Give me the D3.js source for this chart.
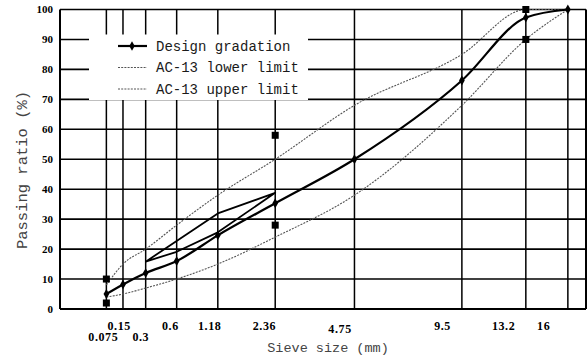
<!DOCTYPE html>
<html>
<head>
<meta charset="utf-8">
<script src="https://cdnjs.cloudflare.com/ajax/libs/d3/7.8.5/d3.min.js"></script>
<style>
  html, body { margin: 0; padding: 0; background: #fff; }
</style>
</head>
<body>
<div id="viz"></div>
<script>
(function gradationChart() {
  const svgWidth = 587;
  const svgHeight = 358;
  const margin = { top: 9.5, right: 1, bottom: 49, left: 60 };

  const inkColor = '#000';
  const limitColor = '#555';
  const titleColor = '#444';

  // data
  const sieveSizes = [0.075, 0.15, 0.3, 0.6, 1.18, 2.36, 4.75, 9.5, 13.2, 16];
  const sieveLabels = ['0.075', '0.15', '0.3', '0.6', '1.18', '2.36', '4.75', '9.5', '13.2', '16'];
  const designPassing = [5, 8.2, 12, 16, 24.6, 35.3, 50, 76.3, 97.3, 100];
  const lowerLimit = [4, 5, 7, 10, 15, 24, 38, 68, 90, 100];
  const upperLimit = [8, 15, 20, 28, 38, 50, 68, 85, 100, 100];
  // the stray closed loop drawn between 0.3 and 2.36
  const loopSizes = [0.3, 1.18, 2.36, 1.18, 0.6, 0.3];
  const loopPassing = [15.8, 31.9, 38.8, 25.6, 19.1, 15.8];
  // square control points
  const controlSizes = [0.075, 0.075, 2.36, 2.36, 13.2, 13.2];
  const controlPassing = [10, 2, 58, 28, 100, 90];
  const yTicks = [0, 10, 20, 30, 40, 50, 60, 70, 80, 90, 100];
  const lowerRowLabels = ['0.075', '0.3'];

  const legendItems = [
    { name: 'Design gradation', kind: 'design' },
    { name: 'AC-13 lower limit', kind: 'limit' },
    { name: 'AC-13 upper limit', kind: 'limit' },
  ];

  const x = d3.scalePow().exponent(0.45)
    .domain([0, 17.3])
    .range([61, svgWidth - margin.right]);

  // tick labels sit slightly left of their grid lines in the original
  const xLabel = d3.scalePow().exponent(0.45)
    .domain([0, 17.3])
    .range([60, 561]);

  const y = d3.scaleLinear()
    .domain([0, 100])
    .range([svgHeight - margin.bottom, margin.top]);

  const svg = d3.select('#viz').append('svg')
    .attr('width', svgWidth)
    .attr('height', svgHeight)
    .style('display', 'block');

  const g = svg.append('g').attr('class', 'plot');

  // grid
  const grid = g.append('g').attr('class', 'grid');
  grid.selectAll('line.h')
    .data(yTicks)
    .enter()
    .append('line')
    .attr('class', 'h')
    .attr('x1', margin.left)
    .attr('x2', svgWidth - margin.right)
    .attr('y1', d => y(d))
    .attr('y2', d => y(d))
    .attr('stroke', inkColor)
    .attr('stroke-width', d => (d === 0 ? 2 : 1.6));

  grid.selectAll('line.v')
    .data(sieveSizes)
    .enter()
    .append('line')
    .attr('class', 'v')
    .attr('x1', d => x(d))
    .attr('x2', d => x(d))
    .attr('y1', y(100))
    .attr('y2', y(0))
    .attr('stroke', inkColor)
    .attr('stroke-width', 1.5);

  // frame
  g.append('line')
    .attr('x1', margin.left).attr('x2', margin.left)
    .attr('y1', y(100)).attr('y2', y(0))
    .attr('stroke', inkColor).attr('stroke-width', 2);
  g.append('line')
    .attr('x1', svgWidth - margin.right).attr('x2', svgWidth - margin.right)
    .attr('y1', y(100)).attr('y2', y(0))
    .attr('stroke', inkColor).attr('stroke-width', 2);

  // legend box hides the grid behind it
  const legend = g.append('g').attr('class', 'legend');
  legend.append('rect')
    .attr('x', 89)
    .attr('y', 34.5)
    .attr('width', 219)
    .attr('height', 65.5)
    .attr('fill', '#fff');

  const legendRows = legend.selectAll('g.row')
    .data(legendItems)
    .enter()
    .append('g')
    .attr('class', 'row')
    .attr('transform', (d, i) => `translate(0, ${46 + i * 21.5})`);

  legendRows.append('line')
    .attr('x1', 118)
    .attr('x2', 147)
    .attr('y1', 0)
    .attr('y2', 0)
    .attr('stroke', d => (d.kind === 'design' ? inkColor : limitColor))
    .attr('stroke-width', d => (d.kind === 'design' ? 2.2 : 1))
    .attr('stroke-dasharray', d => (d.kind === 'design' ? null : '2,1.2'));

  legendRows.filter(d => d.kind === 'design')
    .append('path')
    .attr('transform', 'translate(132, 0)')
    .attr('d', d3.symbol(d3.symbolDiamond, 26))
    .attr('fill', inkColor);

  legendRows.append('text')
    .text(d => d.name)
    .attr('x', 156)
    .attr('y', 0)
    .attr('dy', '0.33em')
    .style('font-family', '"Liberation Mono", monospace')
    .style('font-size', '14px')
    .style('fill', '#1a1a1a');

  // series
  const lineGen = d3.line()
    .x(d => x(d[0]))
    .y(d => y(d[1]))
    .curve(d3.curveMonotoneX);

  const limits = [lowerLimit, upperLimit];
  g.selectAll('path.limit')
    .data(limits)
    .enter()
    .append('path')
    .attr('class', 'limit')
    .attr('d', vals => lineGen(sieveSizes.map((s, i) => [s, vals[i]])))
    .attr('fill', 'none')
    .attr('stroke', limitColor)
    .attr('stroke-width', 1.1)
    .attr('stroke-dasharray', '2,1.2');

  const loopLine = d3.line()
    .x(d => x(d[0]))
    .y(d => y(d[1]));

  g.append('path')
    .datum(loopSizes.map((s, i) => [s, loopPassing[i]]))
    .attr('d', loopLine)
    .attr('fill', 'none')
    .attr('stroke', inkColor)
    .attr('stroke-width', 1.8)
    .attr('stroke-linejoin', 'round');

  const designData = sieveSizes.map((s, i) => [s, designPassing[i]]);
  g.append('path')
    .datum(designData)
    .attr('d', lineGen)
    .attr('fill', 'none')
    .attr('stroke', inkColor)
    .attr('stroke-width', 2.2)
    .attr('stroke-linejoin', 'round');

  g.selectAll('path.design-point')
    .data(designData)
    .enter()
    .append('path')
    .attr('class', 'design-point')
    .attr('transform', d => `translate(${x(d[0])}, ${y(d[1])})`)
    .attr('d', d3.symbol(d3.symbolDiamond, 28))
    .attr('fill', inkColor);

  g.selectAll('rect.control')
    .data(controlSizes.map((s, i) => [s, controlPassing[i]]))
    .enter()
    .append('rect')
    .attr('class', 'control')
    .attr('x', d => x(d[0]) - 3.5)
    .attr('y', d => y(d[1]) - 3.5)
    .attr('width', 7)
    .attr('height', 7)
    .attr('fill', inkColor);

  // y tick labels
  g.selectAll('text.ytick')
    .data(yTicks)
    .enter()
    .append('text')
    .attr('class', 'ytick')
    .text(d => d)
    .attr('x', 53)
    .attr('y', d => y(d))
    .attr('dy', '0.35em')
    .style('text-anchor', 'end')
    .style('font-family', '"Liberation Serif", serif')
    .style('font-weight', 'bold')
    .style('font-size', '11px')
    .style('fill', inkColor);

  // x tick labels, staggered in two rows
  g.selectAll('text.xtick')
    .data(sieveSizes)
    .enter()
    .append('text')
    .attr('class', 'xtick')
    .text((d, i) => sieveLabels[i])
    .attr('x', d => xLabel(d))
    .attr('y', (d, i) => {
      if (lowerRowLabels.includes(sieveLabels[i])) return 341;
      if (sieveLabels[i] === '4.75') return 333;
      return 330;
    })
    .style('text-anchor', 'middle')
    .style('font-family', '"Liberation Serif", serif')
    .style('font-weight', 'bold')
    .style('font-size', '12px')
    .style('letter-spacing', '0.6px')
    .style('fill', inkColor);

  // axis titles
  svg.append('text')
    .text('Sieve size (mm)')
    .attr('x', 328)
    .attr('y', 352)
    .style('text-anchor', 'middle')
    .style('font-family', '"Liberation Mono", monospace')
    .style('font-size', '13.5px')
    .style('fill', titleColor);

  svg.append('text')
    .text('Passing ratio (%)')
    .attr('transform', 'translate(27, 170) rotate(-90)')
    .style('text-anchor', 'middle')
    .style('font-family', '"Liberation Mono", monospace')
    .style('font-size', '15.5px')
    .style('fill', titleColor);
}());
</script>
</body>
</html>
